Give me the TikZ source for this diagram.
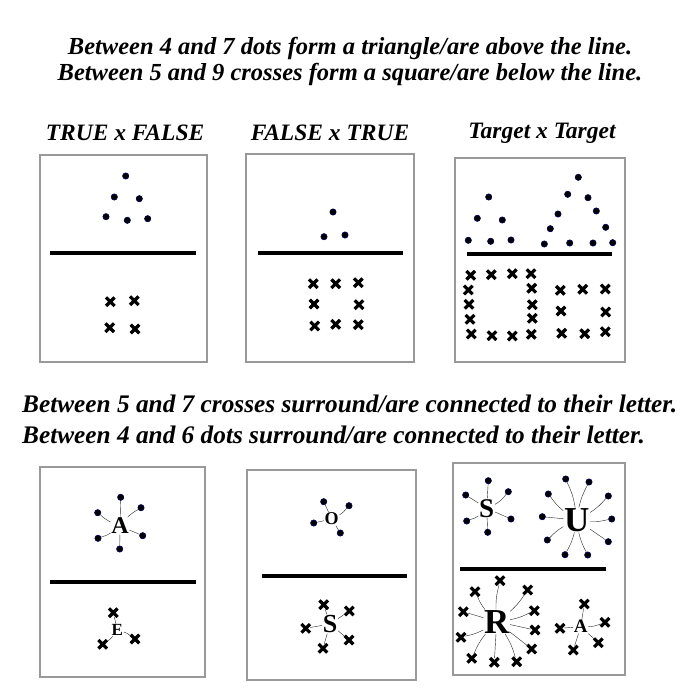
\documentclass[tikz,border=0pt]{standalone}
\usepackage{fontspec}
\setmainfont{Liberation Serif}
\usetikzlibrary{shapes.misc}

\begin{document}
\begin{tikzpicture}[x=1pt,y=-1pt,
  dotnode/.style={circle,fill=black,draw=blue!35!black,line width=0.6pt,minimum size=6.3pt,inner sep=0pt},
  crossnode/.style={cross out,draw=black,line width=3.2pt,minimum size=5.4pt,inner sep=0pt},
  panelframe/.style={draw=black!40,line width=1.6pt},
  splitline/.style={line width=4.5pt},
  hdr/.style={font=\fontsize{23.5}{26}\selectfont\bfseries\itshape,inner sep=0pt},
  ltr/.style={inner sep=0.6pt},
  tie/.style={line width=0.4pt,black!85}]
  \useasboundingbox (0,0) rectangle (700,700);

  % rules
  \node[hdr,font=\fontsize{24.5}{26}\selectfont\bfseries\itshape,align=center] (rule1) at (350,61) {Between 4 and 7 dots form a triangle/are above the line.\\Between 5 and 9 crosses form a square/are below the line.};
  \node[hdr,font=\fontsize{25.3}{31}\selectfont\bfseries\itshape,align=left,anchor=west] (rule2) at (22,419) {Between 5 and 7 crosses surround/are connected to their letter.\\Between 4 and 6 dots surround/are connected to their letter.};

  \node[hdr] (head1) at (125,133) {TRUE x FALSE};
  \node[hdr] (head2) at (330,133) {FALSE x TRUE};
  \node[hdr] (head3) at (542,133) {Target x Target};

  % upper panels
  \draw[panelframe] (40,155) rectangle (207,362);
  \draw[panelframe] (246,154) rectangle (414,362);
  \draw[panelframe] (455,158) rectangle (625,362);
  \draw[splitline] (50,253) -- (196,253);
  \draw[splitline] (258,253) -- (403,253);
  \draw[splitline] (467,254) -- (612,254);

  % TRUE x FALSE
  \node[dotnode] (a1) at (125.7,176) {};
  \node[dotnode] (a2) at (114.3,197) {};
  \node[dotnode] (a3) at (139.3,198.7) {};
  \node[dotnode] (a4) at (106,216.7) {};
  \node[dotnode] (a5) at (127.3,220.3) {};
  \node[dotnode] (a6) at (147.7,218.7) {};
  \node[crossnode] (ax1) at (110.3,301.7) {};
  \node[crossnode] (ax2) at (134.3,300.7) {};
  \node[crossnode] (ax3) at (109.7,327.7) {};
  \node[crossnode] (ax4) at (135,329) {};

  % FALSE x TRUE
  \node[dotnode] (b1) at (333,212) {};
  \node[dotnode] (b2) at (324,236.7) {};
  \node[dotnode] (b3) at (345,235) {};
  \node[crossnode] (bx1) at (313.3,283.7) {};
  \node[crossnode] (bx2) at (335.7,283.7) {};
  \node[crossnode] (bx3) at (358.3,282.7) {};
  \node[crossnode] (bx4) at (314,304) {};
  \node[crossnode] (bx5) at (359,304.7) {};
  \node[crossnode] (bx6) at (314.7,326) {};
  \node[crossnode] (bx7) at (335.7,324.3) {};
  \node[crossnode] (bx8) at (358.3,324.7) {};

  % Target x Target
  \node[dotnode] (c1) at (488.7,197) {};
  \node[dotnode] (c2) at (477.3,218.3) {};
  \node[dotnode] (c3) at (502.3,220) {};
  \node[dotnode] (c4) at (468.3,240.3) {};
  \node[dotnode] (c5) at (490.7,241.3) {};
  \node[dotnode] (c6) at (511,240) {};
  \node[dotnode] (c7) at (578.3,177.3) {};
  \node[dotnode] (c8) at (567.7,194.3) {};
  \node[dotnode] (c9) at (588,197.7) {};
  \node[dotnode] (c10) at (558,214) {};
  \node[dotnode] (c11) at (596.3,211) {};
  \node[dotnode] (c12) at (550.3,228.7) {};
  \node[dotnode] (c13) at (605.7,227.3) {};
  \node[dotnode] (c14) at (544.3,244) {};
  \node[dotnode] (c15) at (569.7,243) {};
  \node[dotnode] (c16) at (593,243) {};
  \node[dotnode] (c17) at (612.7,242.7) {};
  \node[crossnode] (cx1) at (470.7,275.3) {};
  \node[crossnode] (cx2) at (491.3,274.7) {};
  \node[crossnode] (cx3) at (512.3,273.7) {};
  \node[crossnode] (cx4) at (531,273.7) {};
  \node[crossnode] (cx5) at (468.3,290) {};
  \node[crossnode] (cx6) at (531.7,288.3) {};
  \node[crossnode] (cx7) at (469,304.3) {};
  \node[crossnode] (cx8) at (532.3,304.7) {};
  \node[crossnode] (cx9) at (470,319.3) {};
  \node[crossnode] (cx10) at (532.3,318.3) {};
  \node[crossnode] (cx11) at (471.3,334) {};
  \node[crossnode] (cx12) at (492,335.7) {};
  \node[crossnode] (cx13) at (512.3,336) {};
  \node[crossnode] (cx14) at (531.3,334.3) {};
  \node[crossnode] (cx15) at (560.3,290.3) {};
  \node[crossnode] (cx16) at (582.7,289.3) {};
  \node[crossnode] (cx17) at (605.3,289) {};
  \node[crossnode] (cx18) at (561,311) {};
  \node[crossnode] (cx19) at (605.7,312) {};
  \node[crossnode] (cx20) at (561.7,333.3) {};
  \node[crossnode] (cx21) at (584.7,333.7) {};
  \node[crossnode] (cx22) at (605.3,331.7) {};

  % lower panels
  \draw[panelframe] (40,467) rectangle (205,677);
  \draw[panelframe] (247,470) rectangle (416,680);
  \draw[panelframe] (453,463) rectangle (625,675);
  \draw[splitline] (50,582) -- (196,582);
  \draw[splitline] (262,576) -- (407,576);
  \draw[splitline] (460,569) -- (606,569);

  % letters A and E
  \node[ltr,font=\fontsize{24}{24}\selectfont\bfseries] (dA) at (120,526) {A};
  \node[dotnode] (dA1) at (120.7,497.3) {};
  \node[dotnode] (dA2) at (141,507.7) {};
  \node[dotnode] (dA3) at (97.7,512.7) {};
  \node[dotnode] (dA4) at (98,538.3) {};
  \node[dotnode] (dA5) at (142.7,535.7) {};
  \node[dotnode] (dA6) at (119.7,549) {};
  \node[ltr,font=\fontsize{17}{17}\selectfont\bfseries] (dE) at (117.3,630) {E};
  \node[crossnode] (dE1) at (113.3,612.7) {};
  \node[crossnode] (dE2) at (135,639) {};
  \node[crossnode] (dE3) at (102.7,644.3) {};
  \draw[tie] (dA) -- (dA1);
  \draw[tie] (dA) to[bend left=8] (dA2);
  \draw[tie] (dA) to[bend left=8] (dA3);
  \draw[tie] (dA) to[bend left=8] (dA4);
  \draw[tie] (dA) -- (dA5);
  \draw[tie] (dA) -- (dA6);
  \draw[tie] (dE) -- (dE1);
  \draw[tie] (dE) to[bend left=10] (dE2);
  \draw[tie] (dE) to[bend left=10] (dE3);

  % letters O and S
  \node[ltr,font=\fontsize{18}{18}\selectfont\bfseries] (eO) at (331.7,519) {O};
  \node[dotnode] (eO1) at (323.7,501.7) {};
  \node[dotnode] (eO2) at (349,505.7) {};
  \node[dotnode] (eO3) at (313.7,523) {};
  \node[dotnode] (eO4) at (340.3,533) {};
  \node[ltr,font=\fontsize{26}{26}\selectfont\bfseries] (eS) at (330,624) {S};
  \node[crossnode] (eS1) at (323.7,604.7) {};
  \node[crossnode] (eS2) at (349.3,611) {};
  \node[crossnode] (eS3) at (305.7,628.3) {};
  \node[crossnode] (eS4) at (349,640) {};
  \node[crossnode] (eS5) at (323,648.3) {};
  \draw[tie] (eO) -- (eO1);
  \draw[tie] (eO) to[bend right=10] (eO2);
  \draw[tie] (eO) -- (eO3);
  \draw[tie] (eO) -- (eO4);
  \draw[tie] (eS) -- (eS1);
  \draw[tie] (eS) -- (eS2);
  \draw[tie] (eS) -- (eS3);
  \draw[tie] (eS) -- (eS4);
  \draw[tie] (eS) -- (eS5);

  % letters S and U
  \node[ltr,font=\fontsize{27}{27}\selectfont\bfseries] (fS) at (486.7,508.3) {S};
  \node[dotnode] (fS1) at (488.3,480.7) {};
  \node[dotnode] (fS2) at (508.3,491.7) {};
  \node[dotnode] (fS3) at (465.7,495) {};
  \node[dotnode] (fS4) at (466.7,521) {};
  \node[dotnode] (fS5) at (511,519) {};
  \node[dotnode] (fS6) at (487.7,532.3) {};
  \draw[tie] (fS) -- (fS1);
  \draw[tie] (fS) to[bend right=12] (fS2);
  \draw[tie] (fS) -- (fS3);
  \draw[tie] (fS) to[bend left=10] (fS4);
  \draw[tie] (fS) -- (fS5);
  \draw[tie] (fS) -- (fS6);
  \node[ltr,font=\fontsize{35}{35}\selectfont\bfseries] (fU) at (576.7,520) {U};
  \node[dotnode] (fU1) at (565.7,479) {};
  \node[dotnode] (fU2) at (589,482) {};
  \node[dotnode] (fU3) at (548.3,494) {};
  \node[dotnode] (fU4) at (608.3,496) {};
  \node[dotnode] (fU5) at (542.3,516.7) {};
  \node[dotnode] (fU6) at (611.7,519) {};
  \node[dotnode] (fU7) at (547.3,540) {};
  \node[dotnode] (fU8) at (608.3,541.7) {};
  \node[dotnode] (fU9) at (565,554.7) {};
  \node[dotnode] (fU10) at (587.7,555) {};
  \draw[tie] (fU) to[bend right=8] (fU1);
  \draw[tie] (fU) to[bend left=8] (fU2);
  \draw[tie] (fU) to[bend left=8] (fU3);
  \draw[tie] (fU) to[bend right=8] (fU4);
  \draw[tie] (fU) -- (fU5);
  \draw[tie] (fU) to[bend right=8] (fU6);
  \draw[tie] (fU) to[bend right=8] (fU7);
  \draw[tie] (fU) -- (fU8);
  \draw[tie] (fU) to[bend left=8] (fU9);
  \draw[tie] (fU) to[bend right=8] (fU10);

  % letters R and A
  \node[ltr,font=\fontsize{35}{35}\selectfont\bfseries] (gR) at (496.7,621.7) {R};
  \node[crossnode] (gR1) at (500,580.7) {};
  \node[crossnode] (gR2) at (475,591.7) {};
  \node[crossnode] (gR3) at (527.7,590) {};
  \node[crossnode] (gR4) at (463.3,611.7) {};
  \node[crossnode] (gR5) at (534.3,610.7) {};
  \node[crossnode] (gR6) at (535,630) {};
  \node[crossnode] (gR7) at (461,637.3) {};
  \node[crossnode] (gR8) at (531.7,649) {};
  \node[crossnode] (gR9) at (471.7,658.3) {};
  \node[crossnode] (gR10) at (494.3,662.3) {};
  \node[crossnode] (gR11) at (516.7,661.7) {};
  \draw[tie] (gR) to[bend left=8] (gR1);
  \draw[tie] (gR) to[bend left=8] (gR2);
  \draw[tie] (gR) to[bend right=8] (gR3);
  \draw[tie] (gR) -- (gR4);
  \draw[tie] (gR) to[bend right=8] (gR5);
  \draw[tie] (gR) -- (gR6);
  \draw[tie] (gR) to[bend left=8] (gR7);
  \draw[tie] (gR) -- (gR8);
  \draw[tie] (gR) to[bend right=8] (gR9);
  \draw[tie] (gR) -- (gR10);
  \draw[tie] (gR) to[bend left=8] (gR11);
  \node[ltr,font=\fontsize{19}{19}\selectfont\bfseries] (gA) at (580.7,626.7) {A};
  \node[crossnode] (gA1) at (584.3,604) {};
  \node[crossnode] (gA2) at (605,622.3) {};
  \node[crossnode] (gA3) at (560,628.3) {};
  \node[crossnode] (gA4) at (598.3,642.7) {};
  \node[crossnode] (gA5) at (573.3,650) {};
  \draw[tie] (gA) -- (gA1);
  \draw[tie] (gA) to[bend right=10] (gA2);
  \draw[tie] (gA) -- (gA3);
  \draw[tie] (gA) -- (gA4);
  \draw[tie] (gA) -- (gA5);
\end{tikzpicture}
\end{document}
